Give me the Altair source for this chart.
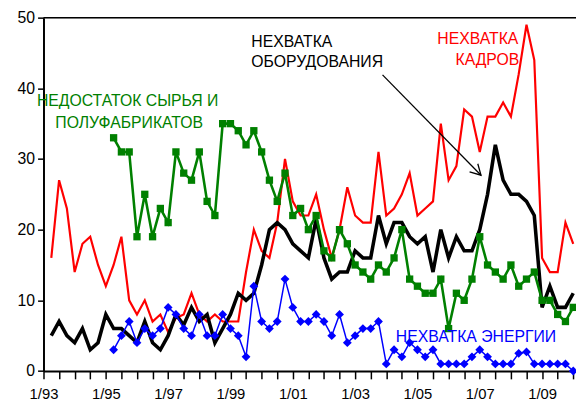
import altair as alt
import pandas as pd

# ---- data (quarterly, first quarter plotted at 1993.25) ----
N_Q = 68
QUARTER_T = [1993.25 + 0.25 * i for i in range(N_Q)]

RED = [16, 27, 23, 14, 18, 19, 15, 12, 15, 19, 10, 8, 10, 7, 8, 5.5, 7.5, 8, 11, 8,
       7, 8, 7, 7, 7, 14, 20, 17, 16, 21, 30, 24, 22, 22, 25, 20, 16, 20, 26, 22,
       21, 21, 31, 22, 23, 25, 28, 22, 23, 24, 35, 27, 29, 37, 36, 31, 36, 36, 38, 36,
       42, 49, 44, 16, 14, 14, 21, 18]
BLACK = [5, 7, 5, 4, 6, 3, 4, 8, 6, 6, 5, 4, 7, 4, 3, 5, 8, 6.5, 9, 7,
         8, 4, 6, 8, 11, 10, 11, 15, 20, 21, 20, 18, 17, 16, 21.5, 16, 13, 14, 14, 17,
         16, 16, 22, 18, 21, 21, 19, 18, 19, 14, 20, 16, 19, 17, 17, 20, 25, 32, 27, 25,
         25, 24, 22, 9, 12, 9, 9, 11]
GREEN_START = 8
GREEN = [33, 31, 31, 19, 25, 19, 23, 21, 31, 28, 27, 31, 24, 22, 35, 35, 34, 32, 34, 31,
         27, 24, 28, 22, 23, 20, 22, 17, 16, 20, 18, 15, 14, 13, 15, 14, 16, 20, 13, 12,
         11, 11, 13, 6, 11, 10, 13, 19, 15, 14, 13, 15, 12, 13, 14, 10, 10, 8, 7, 9]
BLUE_START = 8
BLUE = [3, 5, 7, 4, 6, 5, 6, 9, 8, 6, 5, 8, 5, 5, 8, 6, 5, 2, 12, 7,
        6, 7, 13, 9, 7, 7, 8, 7, 5, 8, 4, 5, 6, 6, 7, 1, 3, 2, 4, 3,
        2, 3, 1, 1, 1, 1, 2, 3, 2, 1, 1, 1, 2.5, 2.7, 1, 1, 1, 1, 1, 0]

TICK_YEARS = [1993, 1995, 1997, 1999, 2001, 2003, 2005, 2007, 2009]
TICK_LABELS = ["1/93", "1/95", "1/97", "1/99", "1/01", "1/03", "1/05", "1/07", "1/09"]
Y_TICKS = [0, 10, 20, 30, 40, 50]

# annotation texts (data coordinates)
ANN_LEFT = pd.DataFrame({"x": [1999.67, 1999.67], "y": [46.6, 43.7],
                         "text": ["НЕХВАТКА", "ОБОРУДОВАНИЯ"], "c": ["black", "black"]})
ANN_RIGHT = pd.DataFrame({"x": [2008.24, 2008.27], "y": [47.0, 44.0],
                          "text": ["НЕХВАТКА", "КАДРОВ"], "c": ["#ff0000", "#ff0000"]})
ANN_CENTER = pd.DataFrame({"x": [1995.7, 1995.75, 2006.88], "y": [38.2, 35.1, 4.8],
                           "text": ["НЕДОСТАТОК СЫРЬЯ И", "ПОЛУФАБРИКАТОВ", "НЕХВАТКА ЭНЕРГИИ"],
                           "c": ["#008000", "#008000", "#0000ff"]})
ARROW = pd.DataFrame({"x": [2003.88], "y": [41.9], "x2": [2007.04], "y2": [27.7]})

# ---- tables ----
df_red = pd.DataFrame({"t": QUARTER_T, "v": RED})
df_black = pd.DataFrame({"t": QUARTER_T, "v": BLACK})
df_green = pd.DataFrame({"t": QUARTER_T[GREEN_START:GREEN_START + len(GREEN)], "v": GREEN})
df_blue = pd.DataFrame({"t": QUARTER_T[BLUE_START:BLUE_START + len(BLUE)], "v": BLUE})

PLOT_W = 540
PLOT_H = 358.3
PX_PER_YEAR = 31.6
X_DOMAIN = [1993, 1993 + PLOT_W / PX_PER_YEAR]

label_expr = "''"
for yr, lab in reversed(list(zip(TICK_YEARS, TICK_LABELS))):
    label_expr = f"abs(datum.value - {yr}) < 0.01 ? '{lab}' : ({label_expr})"

x_ticks = [1993 + 0.5 * k for k in range(35)]
FONT = "Liberation Sans, Arial, sans-serif"

x_axis = alt.Axis(values=x_ticks, labelExpr=label_expr, tickSize=8, labelPadding=8,
                  domainColor="black", domainWidth=2, tickColor="black", tickWidth=1.5,
                  labelFont=FONT, labelFontSize=15, labelColor="black", grid=False,
                  title=None, labelFlush=False, labelOverlap=False, labelAngle=0)
y_axis = alt.Axis(values=Y_TICKS, tickSize=6, labelPadding=3, domainColor="black",
                  domainWidth=2, tickColor="black", tickWidth=1.5, labelFont=FONT,
                  labelFontSize=16, labelColor="black", grid=False, title=None)

xs = alt.Scale(domain=X_DOMAIN, nice=False, zero=False)
ys = alt.Scale(domain=[0, 50], nice=False)


def X(field="t"):
    return alt.X(f"{field}:Q", scale=xs, axis=x_axis)


def Y(field="v"):
    return alt.Y(f"{field}:Q", scale=ys, axis=y_axis)


red = alt.Chart(df_red).mark_line(color="#ff0000", strokeWidth=2.2).encode(x=X(), y=Y())
black = alt.Chart(df_black).mark_line(color="black", strokeWidth=3.6).encode(x=X(), y=Y())
green_l = alt.Chart(df_green).mark_line(color="#008000", strokeWidth=2.6).encode(x=X(), y=Y())
green_p = alt.Chart(df_green).mark_point(shape="square", filled=True, size=55, color="#008000",
                                         opacity=1).encode(x=X(), y=Y())
blue_l = alt.Chart(df_blue).mark_line(color="#0000ff", strokeWidth=1.5).encode(x=X(), y=Y())
blue_p = alt.Chart(df_blue).mark_point(shape="diamond", filled=True, size=80, color="#0000ff",
                                       opacity=1).encode(x=X(), y=Y())

top_line = alt.Chart(pd.DataFrame({"v": [50]})).mark_rule(color="black", strokeWidth=1.5).encode(y=Y())

arrow_line = alt.Chart(ARROW).mark_rule(color="black", strokeWidth=1.3).encode(
    x=X("x"), y=Y("y"), x2="x2:Q", y2="y2:Q")
arrow_head = alt.Chart(ARROW).mark_point(
    shape="M -1 -0.55 L 0 0 L -1 0.55", filled=False, size=450, strokeWidth=1.3,
    color="black", opacity=1, angle=45.6).encode(x=X("x2"), y=Y("y2"))


def texts(df, align):
    return alt.Chart(df).mark_text(align=align, baseline="middle", font=FONT, fontSize=16).encode(
        x=X("x"), y=Y("y"), text="text:N", color=alt.Color("c:N", scale=None))


chart = alt.layer(
    top_line, red, black, green_l, green_p, blue_l, blue_p,
    arrow_line, arrow_head,
    texts(ANN_LEFT, "left"), texts(ANN_RIGHT, "right"), texts(ANN_CENTER, "center"),
).properties(
    width=PLOT_W, height=PLOT_H,
    padding={"left": 36, "top": 7, "right": 0, "bottom": 31},
    autosize=alt.AutoSizeParams(type="none"),
).configure_view(stroke=None).configure(background="white")

chart.save("out.html", embed_options={"renderer": "svg", "actions": False})
